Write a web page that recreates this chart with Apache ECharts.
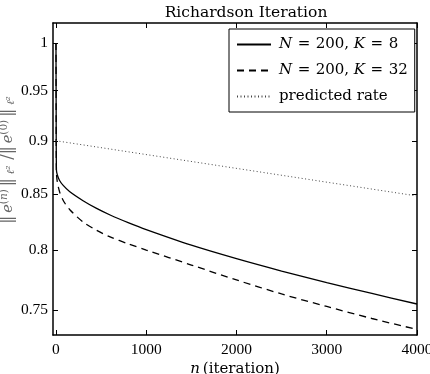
<!DOCTYPE html>
<html>
<head>
<meta charset="utf-8">
<script src="https://cdn.jsdelivr.net/npm/echarts@6/dist/echarts.min.js"></script>
<style>
  html, body { margin: 0; padding: 0; background: #fff; }
  #chart { width: 430px; height: 374px; }
</style>
</head>
<body>
<div id="chart"></div>
<script>
// values (y axis is logarithmic)
const iterK8 = [0, 2, 5, 15, 40, 80, 150, 300, 450, 600, 800, 1000, 1500, 2000, 2500, 3000, 3500, 4000];
const normK8 = [1.0, 0.93, 0.8721, 0.8674, 0.8623, 0.8577, 0.8521, 0.8437, 0.8367, 0.8308, 0.824, 0.8178,
  0.8042, 0.7926, 0.7821, 0.7724, 0.7634, 0.7548];

const iterK32 = [0, 2, 5, 15, 44, 90, 156, 300, 450, 600, 800, 1000, 1500, 2000, 2500, 3000, 3500, 4000];
const normK32 = [1.0, 0.92, 0.8702, 0.8609, 0.8508, 0.8425, 0.8353, 0.8246, 0.8172, 0.8114, 0.8054, 0.8,
  0.7872, 0.7746, 0.763, 0.7528, 0.7431, 0.7344];

const iterRate = [0, 4000];
const normRate = [0.9, 0.848];

const xTicks = [0, 1000, 2000, 3000, 4000];
const yTicks = [0.75, 0.8, 0.85, 0.9, 0.95, 1];

const seriesNames = ['K8', 'K32', 'rate'];
const legendText = {
  K8: '{i|N}{eq|=}200, {i|K}{eq|=}8',
  K32: '{i|N}{eq|=}200, {i|K}{eq|=}32',
  rate: 'predicted rate'
};

const serif = 'DejaVu Serif';
const tickFont = 'Liberation Serif';

// log scale done by hand: plot ln(y) on a value axis
const toLog = (xs, ys) => xs.map((x, i) => [x, Math.log(ys[i])]);
const yLogTicks = yTicks.map(v => Math.log(v));
const yMin = Math.log(0.73);
const yMax = Math.log(1.0218);
const xMin = -33;
const xMax = 4000;

const frame = { show: true, onZero: false, lineStyle: { color: '#000', width: 1.5 } };
const tickStyle = { color: '#000', width: 1 };
const grey = '#666';

const chart = echarts.init(document.getElementById('chart'));

chart.setOption({
  animation: false,
  backgroundColor: '#fff',
  title: {
    text: 'Richardson Iteration',
    left: 241,
    top: 0,
    textAlign: 'center',
    textStyle: { fontFamily: serif, fontSize: 15.5, fontWeight: 'normal', color: '#000' }
  },
  grid: {
    left: 53,
    right: 13,
    top: 23,
    bottom: 39,
    containLabel: false,
    outerBoundsMode: 'none'
  },
  legend: {
    orient: 'vertical',
    left: 229,
    top: 29,
    itemWidth: 34,
    itemHeight: 14,
    itemGap: 11,
    padding: [8, 7, 8, 7],
    backgroundColor: '#fff',
    borderColor: '#000',
    borderWidth: 1,
    data: seriesNames,
    itemStyle: { opacity: 0 },
    formatter: name => legendText[name],
    textStyle: {
      fontFamily: serif,
      fontSize: 15,
      color: '#000',
      padding: [0, 0, 0, 3],
      rich: {
        i: { fontFamily: serif, fontSize: 15, fontStyle: 'italic', color: '#000' },
        eq: { fontFamily: serif, fontSize: 15, color: '#000', padding: [0, 5.5, 0, 5.5] }
      }
    }
  },
  xAxis: [
    {
      type: 'value',
      min: xMin,
      max: xMax,
      position: 'bottom',
      axisLine: frame,
      axisTick: { show: true, inside: true, length: 5, customValues: xTicks, lineStyle: tickStyle },
      axisLabel: {
        customValues: xTicks,
        fontFamily: tickFont,
        fontSize: 15.5,
        color: '#000',
        margin: 7,
        formatter: v => String(v)
      },
      splitLine: { show: false },
      name: '{i|n}\u2009(iteration)',
      nameLocation: 'middle',
      nameGap: 27,
      nameMoveOverlap: false,
      nameTextStyle: {
        fontFamily: serif,
        fontSize: 15,
        color: '#000',
        rich: { i: { fontFamily: serif, fontSize: 15, fontStyle: 'italic', color: '#000' } }
      }
    },
    {
      type: 'value',
      min: xMin,
      max: xMax,
      position: 'top',
      axisLine: frame,
      axisTick: { show: true, inside: true, length: 5, customValues: xTicks, lineStyle: tickStyle },
      axisLabel: { show: false },
      splitLine: { show: false }
    }
  ],
  yAxis: [
    {
      type: 'value',
      min: yMin,
      max: yMax,
      position: 'left',
      axisLine: frame,
      axisTick: { show: true, inside: true, length: 5, customValues: yLogTicks, lineStyle: tickStyle },
      axisLabel: {
        customValues: yLogTicks,
        fontFamily: tickFont,
        fontSize: 15.5,
        color: '#000',
        margin: 5,
        formatter: v => String(+Math.exp(v).toFixed(2))
      },
      splitLine: { show: false },
      name: '{b|\u2016}{i|e}{sp|(}{spi|n}{sp|)}{b|\u2016}{sb|\u2113\u00b2}{b|/\u2016}{i|e}{sp|(0)}{b|\u2016}{sb|\u2113\u00b2}',
      nameLocation: 'middle',
      nameRotate: 90,
      nameGap: 36,
      nameMoveOverlap: false,
      nameTextStyle: {
        fontFamily: serif,
        fontSize: 14,
        color: grey,
        lineHeight: 18,
        padding: [0, 0, 0, 38],
        rich: {
          b: { fontFamily: serif, fontSize: 16, color: grey, lineHeight: 18, padding: [0, 3, 0, 3] },
          i: { fontFamily: serif, fontSize: 14.5, fontStyle: 'italic', color: grey, lineHeight: 18 },
          sp: { fontFamily: serif, fontSize: 10.5, color: grey, verticalAlign: 'top', lineHeight: 18 },
          spi: { fontFamily: serif, fontSize: 10.5, fontStyle: 'italic', color: grey, verticalAlign: 'top', lineHeight: 18 },
          sb: { fontFamily: serif, fontSize: 10.5, fontStyle: 'italic', color: grey, verticalAlign: 'bottom', lineHeight: 18, padding: [0, 3, 0, 1] }
        }
      }
    },
    {
      type: 'value',
      min: yMin,
      max: yMax,
      position: 'right',
      axisLine: frame,
      axisTick: { show: true, inside: true, length: 5, customValues: yLogTicks, lineStyle: tickStyle },
      axisLabel: { show: false },
      splitLine: { show: false }
    }
  ],
  series: [
    {
      name: 'K8',
      type: 'line',
      data: toLog(iterK8, normK8),
      symbol: 'none',
      smooth: 0.3,
      lineStyle: { color: '#000', width: 1.3 },
      itemStyle: { color: '#000' }
    },
    {
      name: 'K32',
      type: 'line',
      data: toLog(iterK32, normK32),
      symbol: 'none',
      smooth: 0.3,
      lineStyle: { color: '#000', width: 1.3, type: [7, 5] },
      itemStyle: { color: '#000' }
    },
    {
      name: 'rate',
      type: 'line',
      data: toLog(iterRate, normRate),
      symbol: 'none',
      lineStyle: { color: '#444', width: 1, type: [1, 2.5] },
      itemStyle: { color: '#444' }
    }
  ]
});
</script>
</body>
</html>
